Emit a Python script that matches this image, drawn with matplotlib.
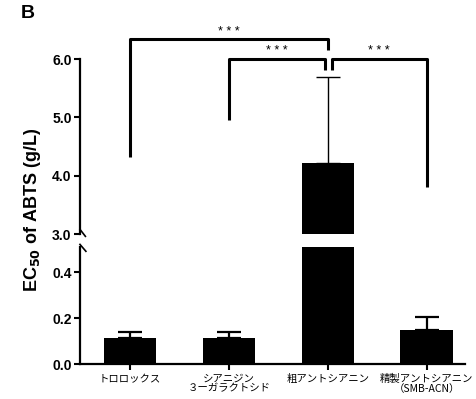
import matplotlib
matplotlib.use('Agg')
import matplotlib.pyplot as plt
import numpy as np

plt.rcParams['font.family'] = ['Liberation Sans', 'Noto Sans CJK JP', 'DejaVu Sans']

# data
categories = ['トロロックス', 'シアニジン\n３ーガラクトシド', '粗アントシアニン', '精製アントシアニン\n（SMB-ACN）']
ec50 = [0.112, 0.112, 4.22, 0.148]
err_up = [0.026, 0.025, 1.48, 0.055]
# comparisons: (bar a, bar b, label)
comparisons = [(0, 2, '* * *'), (1, 2, '* * *'), (2, 3, '* * *')]

fig = plt.figure(figsize=(4.76, 3.99), dpi=100)
ax_top = fig.add_axes([0.168, 0.4135, 0.809, 0.4385])
ax_bot = fig.add_axes([0.168, 0.0877, 0.809, 0.294])

x = np.arange(len(categories))
for ax in (ax_top, ax_bot):
    ax.bar(x, ec50, width=0.53, color='black', zorder=2)
    for i in range(len(x)):
        lw = 1.0 if ec50[i] > 1 else 1.6
        ax.errorbar(x[i], ec50[i], yerr=[[0], [err_up[i]]], fmt='none',
                    ecolor='black', elinewidth=lw, capsize=8.6, capthick=lw, zorder=1)
    ax.set_xlim(-0.507, 3.39)
    for s in ('top', 'right'):
        ax.spines[s].set_visible(False)
    ax.spines['left'].set_linewidth(1.6)
    ax.spines['bottom'].set_linewidth(1.6)
    ax.tick_params(axis='y', length=4, width=1.5, pad=2)

ax_top.set_ylim(3.0, 6.0)
ax_top.set_yticks([3.0, 4.0, 5.0, 6.0])
ax_top.set_yticklabels(['3.0', '4.0', '5.0', '6.0'], fontweight='bold', fontsize=10)
ax_top.spines['bottom'].set_visible(False)
ax_top.set_xticks([])

ax_bot.set_ylim(0, 0.51)
ax_bot.set_yticks([0.0, 0.2, 0.4])
ax_bot.set_yticklabels(['0.0', '0.2', '0.4'], fontweight='bold', fontsize=10)
ax_bot.set_xticks(x)
ax_bot.set_xticklabels(categories, fontsize=7.5, family=['Noto Sans CJK JP', 'DejaVu Sans'],
                       linespacing=1.0)
ax_bot.tick_params(axis='x', length=4, width=1.5, pad=3)

# break marks
d = dict(color='black', lw=1.2, clip_on=False)
ax_top.plot([-0.507, -0.507 + 0.055], [3.08, 2.96], **d)
ax_bot.plot([-0.507, -0.507 + 0.06], [0.52, 0.49], **d)

# significance brackets
br = dict(color='black', lw=2.2, clip_on=False, solid_capstyle='butt')
ax_top.plot([0, 0, 2, 2], [4.32, 6.34, 6.34, 6.15], **br)
ax_top.plot([1, 1, 1.97, 1.97], [4.95, 6.0, 6.0, 5.81], **br)
ax_top.plot([2.04, 2.04, 3.0, 3.0], [5.81, 6.0, 6.0, 3.80], **br)
ax_top.text(1.0, 6.47, comparisons[0][2], ha='center', va='center', fontsize=9)
ax_top.text(1.48, 6.13, comparisons[1][2], ha='center', va='center', fontsize=9)
ax_top.text(2.52, 6.13, comparisons[2][2], ha='center', va='center', fontsize=9)

fig.text(33 / 476, 1 - 210 / 399, 'EC$_{\\mathbf{50}}$ of ABTS (g/L)', rotation=90,
         ha='center', va='center', fontsize=13, fontweight='bold')
fig.text(28 / 476, 1 - 14 / 399, 'B', ha='center', va='center', fontsize=14, fontweight='bold')

fig.savefig('out.png', dpi=100)
